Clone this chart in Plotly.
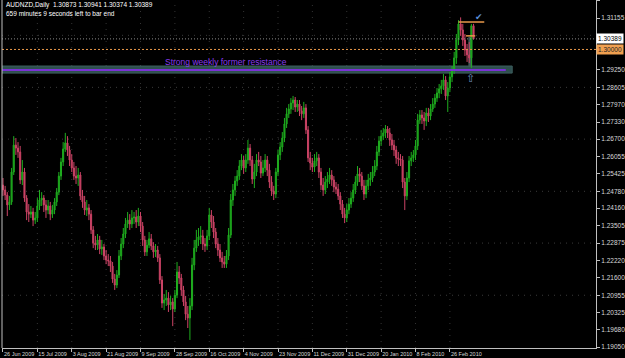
import plotly.graph_objects as go

# ---------------- data ----------------
header_text = "AUDNZD,Daily  1.30873 1.30941 1.30374 1.30389"
timer_text = "659 minutes 9 seconds left to bar end"
zone_text = "Strong weekly former resistance"

date_labels = ["26 Jun 2009", "15 Jul 2009", "3 Aug 2009", "21 Aug 2009", "9 Sep 2009",
               "28 Sep 2009", "16 Oct 2009", "4 Nov 2009", "23 Nov 2009", "11 Dec 2009",
               "31 Dec 2009", "20 Jan 2010", "8 Feb 2010", "26 Feb 2010"]
bars_per_label = 16

price_ticks = [1.31800, 1.31155, 1.29250, 1.28605, 1.27970, 1.27330,
               1.26700, 1.26055, 1.25425, 1.24780, 1.24160, 1.23505, 1.22875, 1.22220,
               1.21600, 1.20955, 1.20325, 1.19680, 1.19050]
grid_prices = [1.30520, 1.28605, 1.26700, 1.24780, 1.22875, 1.20955]

opens = [1.2501, 1.2483, 1.2464, 1.2428, 1.2439, 1.2549, 1.2648, 1.2637, 1.2623, 1.2520,
         1.2549, 1.2453, 1.2402, 1.2394, 1.2402, 1.2372, 1.2380, 1.2424, 1.2446, 1.2453,
         1.2428, 1.2409, 1.2424, 1.2394, 1.2409, 1.2439, 1.2475, 1.2534, 1.2586, 1.2634,
         1.2656, 1.2630, 1.2593, 1.2564, 1.2534, 1.2527, 1.2538, 1.2461, 1.2439, 1.2409,
         1.2417, 1.2394, 1.2336, 1.2288, 1.2280, 1.2299, 1.2266, 1.2273, 1.2240, 1.2225,
         1.2222, 1.2203, 1.2155, 1.2133, 1.2170, 1.2240, 1.2284, 1.2321, 1.2358, 1.2372,
         1.2358, 1.2380, 1.2383, 1.2365, 1.2387, 1.2350, 1.2299, 1.2255, 1.2280, 1.2303,
         1.2277, 1.2255, 1.2262, 1.2233, 1.2152, 1.2067, 1.2078, 1.2085, 1.2060, 1.2071,
         1.2045, 1.2096, 1.2181, 1.2159, 1.2115, 1.2071, 1.2026, 1.2012, 1.2056, 1.2207,
         1.2269, 1.2299, 1.2310, 1.2314, 1.2284, 1.2277, 1.2314, 1.2391, 1.2365, 1.2328,
         1.2284, 1.2262, 1.2233, 1.2218, 1.2210, 1.2240, 1.2317, 1.2446, 1.2483, 1.2516,
         1.2534, 1.2571, 1.2593, 1.2564, 1.2593, 1.2637, 1.2593, 1.2523, 1.2549, 1.2593,
         1.2586, 1.2545, 1.2564, 1.2593, 1.2556, 1.2512, 1.2479, 1.2468, 1.2549, 1.2612,
         1.2641, 1.2674, 1.2726, 1.2763, 1.2781, 1.2803, 1.2814, 1.2788, 1.2799, 1.2774,
         1.2763, 1.2785, 1.2704, 1.2601, 1.2582, 1.2567, 1.2590, 1.2601, 1.2549, 1.2501,
         1.2483, 1.2512, 1.2523, 1.2538, 1.2520, 1.2494, 1.2486, 1.2461, 1.2431, 1.2394,
         1.2380, 1.2409, 1.2431, 1.2453, 1.2483, 1.2512, 1.2542, 1.2534, 1.2498, 1.2468,
         1.2498, 1.2520, 1.2527, 1.2549, 1.2571, 1.2623, 1.2663, 1.2681, 1.2693, 1.2707,
         1.2693, 1.2667, 1.2648, 1.2630, 1.2601, 1.2597, 1.2593, 1.2512, 1.2461, 1.2527,
         1.2590, 1.2601, 1.2612, 1.2645, 1.2740, 1.2759, 1.2748, 1.2737, 1.2766, 1.2755,
         1.2781, 1.2799, 1.2821, 1.2840, 1.2855, 1.2866, 1.2888, 1.2829, 1.2858, 1.2899,
         1.2924, 1.2969, 1.3035, 1.3094, 1.3072, 1.3035, 1.2998, 1.2980, 1.2969, 1.30873]

highs = [1.2527, 1.2498, 1.2475, 1.2461, 1.2564, 1.2681, 1.2674, 1.2659, 1.2645, 1.2593,
         1.2564, 1.2464, 1.2431, 1.2424, 1.2417, 1.2402, 1.2453, 1.2483, 1.2475, 1.2464,
         1.2446, 1.2446, 1.2439, 1.2428, 1.2453, 1.2490, 1.2549, 1.2601, 1.2659, 1.2693,
         1.2681, 1.2645, 1.2615, 1.2586, 1.2571, 1.2564, 1.2549, 1.2483, 1.2461, 1.2446,
         1.2431, 1.2409, 1.2350, 1.2314, 1.2321, 1.2314, 1.2299, 1.2284, 1.2262, 1.2247,
         1.2240, 1.2218, 1.2174, 1.2188, 1.2262, 1.2306, 1.2343, 1.2380, 1.2402, 1.2394,
         1.2409, 1.2402, 1.2409, 1.2417, 1.2402, 1.2365, 1.2314, 1.2299, 1.2328, 1.2321,
         1.2291, 1.2284, 1.2277, 1.2247, 1.2166, 1.2100, 1.2115, 1.2107, 1.2093, 1.2085,
         1.2115, 1.2218, 1.2203, 1.2174, 1.2130, 1.2093, 1.2056, 1.2085, 1.2233, 1.2299,
         1.2336, 1.2343, 1.2350, 1.2336, 1.2306, 1.2336, 1.2417, 1.2409, 1.2387, 1.2343,
         1.2306, 1.2284, 1.2255, 1.2240, 1.2262, 1.2343, 1.2468, 1.2505, 1.2534, 1.2556,
         1.2593, 1.2615, 1.2608, 1.2615, 1.2667, 1.2652, 1.2608, 1.2579, 1.2615, 1.2623,
         1.2608, 1.2593, 1.2615, 1.2608, 1.2579, 1.2534, 1.2498, 1.2564, 1.2630, 1.2659,
         1.2696, 1.2748, 1.2785, 1.2799, 1.2821, 1.2829, 1.2825, 1.2814, 1.2814, 1.2792,
         1.2807, 1.2799, 1.2718, 1.2623, 1.2601, 1.2615, 1.2623, 1.2615, 1.2564, 1.2527,
         1.2534, 1.2549, 1.2564, 1.2556, 1.2534, 1.2512, 1.2505, 1.2475, 1.2446, 1.2417,
         1.2431, 1.2453, 1.2475, 1.2505, 1.2534, 1.2571, 1.2564, 1.2549, 1.2520, 1.2520,
         1.2542, 1.2549, 1.2571, 1.2593, 1.2645, 1.2681, 1.2704, 1.2711, 1.2722, 1.2718,
         1.2711, 1.2689, 1.2667, 1.2645, 1.2623, 1.2615, 1.2608, 1.2527, 1.2549, 1.2608,
         1.2623, 1.2630, 1.2667, 1.2763, 1.2777, 1.2777, 1.2770, 1.2785, 1.2785, 1.2799,
         1.2821, 1.2836, 1.2858, 1.2873, 1.2888, 1.2910, 1.2902, 1.2880, 1.2917, 1.2939,
         1.2991, 1.3057, 1.3108, 1.3118, 1.3094, 1.3057, 1.3020, 1.3027, 1.3094, 1.30941]

lows = [1.2461, 1.2446, 1.2387, 1.2409, 1.2428, 1.2538, 1.2612, 1.2601, 1.2505, 1.2501,
        1.2439, 1.2372, 1.2365, 1.2380, 1.2350, 1.2358, 1.2365, 1.2409, 1.2424, 1.2402,
        1.2380, 1.2394, 1.2372, 1.2380, 1.2394, 1.2424, 1.2464, 1.2520, 1.2571, 1.2623,
        1.2608, 1.2571, 1.2549, 1.2520, 1.2505, 1.2498, 1.2446, 1.2417, 1.2391, 1.2387,
        1.2372, 1.2321, 1.2269, 1.2262, 1.2262, 1.2247, 1.2244, 1.2225, 1.2210, 1.2203,
        1.2181, 1.2141, 1.2115, 1.2122, 1.2159, 1.2225, 1.2269, 1.2306, 1.2343, 1.2336,
        1.2343, 1.2358, 1.2343, 1.2350, 1.2328, 1.2277, 1.2240, 1.2240, 1.2269, 1.2262,
        1.2233, 1.2236, 1.2218, 1.2137, 1.2049, 1.2041, 1.2056, 1.2034, 1.2041, 1.1982,
        1.2034, 1.2085, 1.2137, 1.2093, 1.2056, 1.2004, 1.1975, 1.1931, 1.2041, 1.2188,
        1.2255, 1.2277, 1.2284, 1.2262, 1.2255, 1.2262, 1.2299, 1.2343, 1.2306, 1.2269,
        1.2240, 1.2218, 1.2196, 1.2196, 1.2196, 1.2225, 1.2306, 1.2424, 1.2461, 1.2498,
        1.2520, 1.2556, 1.2542, 1.2549, 1.2579, 1.2571, 1.2505, 1.2490, 1.2534, 1.2571,
        1.2527, 1.2534, 1.2549, 1.2534, 1.2490, 1.2461, 1.2446, 1.2453, 1.2534, 1.2593,
        1.2623, 1.2659, 1.2711, 1.2748, 1.2763, 1.2777, 1.2770, 1.2770, 1.2755, 1.2740,
        1.2748, 1.2689, 1.2586, 1.2556, 1.2549, 1.2549, 1.2571, 1.2527, 1.2483, 1.2461,
        1.2468, 1.2490, 1.2505, 1.2498, 1.2475, 1.2468, 1.2446, 1.2409, 1.2380, 1.2361,
        1.2365, 1.2394, 1.2417, 1.2439, 1.2468, 1.2498, 1.2512, 1.2483, 1.2446, 1.2453,
        1.2483, 1.2498, 1.2512, 1.2534, 1.2556, 1.2608, 1.2645, 1.2667, 1.2674, 1.2674,
        1.2645, 1.2630, 1.2608, 1.2579, 1.2571, 1.2571, 1.2490, 1.2409, 1.2446, 1.2512,
        1.2571, 1.2586, 1.2593, 1.2630, 1.2726, 1.2726, 1.2704, 1.2718, 1.2733, 1.2740,
        1.2770, 1.2785, 1.2807, 1.2821, 1.2836, 1.2851, 1.2814, 1.2770, 1.2843, 1.2880,
        1.2910, 1.2947, 1.3016, 1.3050, 1.3013, 1.2976, 1.2954, 1.2950, 1.2932, 1.30374]

closes = [1.2483, 1.2464, 1.2428, 1.2439, 1.2549, 1.2648, 1.2637, 1.2623, 1.2520, 1.2549,
          1.2453, 1.2402, 1.2394, 1.2402, 1.2372, 1.2380, 1.2424, 1.2446, 1.2453, 1.2428,
          1.2409, 1.2424, 1.2394, 1.2409, 1.2439, 1.2475, 1.2534, 1.2586, 1.2634, 1.2656,
          1.2630, 1.2593, 1.2564, 1.2534, 1.2527, 1.2538, 1.2461, 1.2439, 1.2409, 1.2417,
          1.2394, 1.2336, 1.2288, 1.2280, 1.2299, 1.2266, 1.2273, 1.2240, 1.2225, 1.2222,
          1.2203, 1.2155, 1.2133, 1.2170, 1.2240, 1.2284, 1.2321, 1.2358, 1.2372, 1.2358,
          1.2380, 1.2383, 1.2365, 1.2387, 1.2350, 1.2299, 1.2255, 1.2280, 1.2303, 1.2277,
          1.2255, 1.2262, 1.2233, 1.2152, 1.2067, 1.2078, 1.2085, 1.2060, 1.2071, 1.2045,
          1.2096, 1.2181, 1.2159, 1.2115, 1.2071, 1.2026, 1.2012, 1.2056, 1.2207, 1.2269,
          1.2299, 1.2310, 1.2314, 1.2284, 1.2277, 1.2314, 1.2391, 1.2365, 1.2328, 1.2284,
          1.2262, 1.2233, 1.2218, 1.2210, 1.2240, 1.2317, 1.2446, 1.2483, 1.2516, 1.2534,
          1.2571, 1.2593, 1.2564, 1.2593, 1.2637, 1.2593, 1.2523, 1.2549, 1.2593, 1.2586,
          1.2545, 1.2564, 1.2593, 1.2556, 1.2512, 1.2479, 1.2468, 1.2549, 1.2612, 1.2641,
          1.2674, 1.2726, 1.2763, 1.2781, 1.2803, 1.2814, 1.2788, 1.2799, 1.2774, 1.2763,
          1.2785, 1.2704, 1.2601, 1.2582, 1.2567, 1.2590, 1.2601, 1.2549, 1.2501, 1.2483,
          1.2512, 1.2523, 1.2538, 1.2520, 1.2494, 1.2486, 1.2461, 1.2431, 1.2394, 1.2380,
          1.2409, 1.2431, 1.2453, 1.2483, 1.2512, 1.2542, 1.2534, 1.2498, 1.2468, 1.2498,
          1.2520, 1.2527, 1.2549, 1.2571, 1.2623, 1.2663, 1.2681, 1.2693, 1.2707, 1.2693,
          1.2667, 1.2648, 1.2630, 1.2601, 1.2597, 1.2593, 1.2512, 1.2461, 1.2527, 1.2590,
          1.2601, 1.2612, 1.2645, 1.2740, 1.2759, 1.2748, 1.2737, 1.2766, 1.2755, 1.2781,
          1.2799, 1.2821, 1.2840, 1.2855, 1.2866, 1.2888, 1.2829, 1.2858, 1.2899, 1.2924,
          1.2969, 1.3035, 1.3094, 1.3072, 1.3035, 1.2998, 1.2980, 1.2969, 1.3087, 1.30389]

# annotation levels (prices) drawn on the chart
zone_top, zone_bottom, zone_line = 1.2939, 1.2913, 1.2924
round_level = 1.30000
bid_price = 1.30389
top_line_price = 1.3101
mid_line_price = 1.3050
bar_box_top, bar_box_bottom = 1.3046, 1.2935
check_price = 1.3119
arrow_price = 1.2893

# ---------------- figure ----------------
n = len(closes)
idx = list(range(n))

BG = "#000000"
AX = "#c0c0c0"
TXT = "#d8d8d8"
FONT = "Liberation Sans"
GREEN = "#1fae1f"
RED = "#cc4466"
ORANGE = "#E8984A"

fig = go.Figure()
fig.add_trace(go.Candlestick(
    x=idx, open=opens, high=highs, low=lows, close=closes,
    increasing=dict(line=dict(color=GREEN, width=1), fillcolor="#178f17"),
    decreasing=dict(line=dict(color=RED, width=1), fillcolor="#c03a5c"),
    whiskerwidth=0, showlegend=False, hoverinfo="skip"))

x_left, x_right = -0.46, 276.0
zone_end = 237
shapes = []
# dotted grid
for gp in grid_prices:
    shapes.append(dict(type="line", xref="paper", x0=0, x1=1, yref="y", y0=gp, y1=gp,
                       line=dict(color="#3a3a3a", width=1, dash="1px,5px"), layer="below"))
for k in range(1, len(date_labels)):
    xv = k * bars_per_label
    shapes.append(dict(type="line", xref="x", x0=xv, x1=xv, yref="paper", y0=0, y1=1,
                       line=dict(color="#333333", width=1, dash="1px,5px"), layer="below"))
# resistance zone
shapes.append(dict(type="rect", xref="x", x0=x_left, x1=zone_end, yref="y",
                   y0=zone_bottom, y1=zone_top, fillcolor="#2F4F4F",
                   line=dict(color="#3d5d5d", width=1), layer="below"))
shapes.append(dict(type="line", xref="x", x0=x_left, x1=zone_end - 3, yref="y",
                   y0=zone_line, y1=zone_line, line=dict(color="#7a32d6", width=2)))
# small gray box near last bars
shapes.append(dict(type="rect", xref="x", x0=216.6, x1=218.4, yref="y",
                   y0=bar_box_bottom, y1=bar_box_top, fillcolor="#3e5858",
                   line=dict(width=0), layer="below"))
# 1.30000 dashed line and bid line
shapes.append(dict(type="line", xref="paper", x0=0, x1=1, yref="y", y0=round_level,
                   y1=round_level, line=dict(color=ORANGE, width=1, dash="2px,2px")))
shapes.append(dict(type="line", xref="paper", x0=0, x1=1, yref="y", y0=bid_price,
                   y1=bid_price, line=dict(color="#8a8a8a", width=1, dash="1px,2px")))
# orange horizontal segments
shapes.append(dict(type="line", xref="x", x0=212, x1=224, yref="y", y0=top_line_price,
                   y1=top_line_price, line=dict(color=ORANGE, width=1.5)))
shapes.append(dict(type="line", xref="x", x0=215.5, x1=219.8, yref="y", y0=mid_line_price,
                   y1=mid_line_price, line=dict(color=ORANGE, width=1.5)))
# left border
shapes.append(dict(type="line", xref="paper", x0=0, x1=0, yref="paper", y0=0, y1=1,
                   line=dict(color=AX, width=1)))

annotations = [
    dict(xref="paper", yref="paper", x=0.003, y=1.003, xanchor="left", yanchor="top",
         text=header_text, showarrow=False, font=dict(family=FONT, size=6.5, color="#ffffff")),
    dict(xref="paper", yref="paper", x=0.003, y=0.977, xanchor="left", yanchor="top",
         text=timer_text, showarrow=False, font=dict(family=FONT, size=6.5, color="#ffffff")),
    dict(xref="x", yref="y", x=103.7, y=1.2954, text=zone_text, showarrow=False,
         font=dict(family=FONT, size=8.5, color="#8a3cf0")),
    dict(xref="paper", yref="y", x=1.0, y=bid_price, xanchor="left", text="1.30389",
         showarrow=False, bgcolor="#ffffff", borderpad=1,
         font=dict(family=FONT, size=6.5, color="#000000")),
    dict(xref="paper", yref="y", x=1.0, y=round_level, xanchor="left", text="1.30000",
         showarrow=False, bgcolor="#F0A050", borderpad=1,
         font=dict(family=FONT, size=6.5, color="#202020")),
    dict(xref="x", yref="y", x=221.5, y=check_price, text="✔", showarrow=False,
         font=dict(family="DejaVu Sans", size=9, color="#5b8fd6")),
    dict(xref="x", yref="y", x=217.6, y=arrow_price, text="⇧", showarrow=False,
         font=dict(family="DejaVu Sans", size=11, color="#6f8fc0")),
]

fig.update_layout(
    width=625, height=358,
    margin=dict(l=2, r=23, t=0, b=10, pad=0),
    paper_bgcolor=BG, plot_bgcolor=BG,
    shapes=shapes, annotations=annotations, showlegend=False,
    xaxis=dict(range=[x_left, x_right], rangeslider=dict(visible=False),
               tickvals=[k * bars_per_label for k in range(len(date_labels))],
               ticktext=date_labels, ticks="outside", ticklen=3, tickcolor=AX,
               ticklabelposition="outside right", tickangle=0,
               tickfont=dict(family=FONT, size=5.5, color=TXT),
               showline=True, linecolor=AX, linewidth=1, showgrid=False, zeroline=False,
               fixedrange=True),
    yaxis=dict(range=[1.19014, 1.3182], side="right",
               tickvals=price_ticks, ticktext=[f"{v:.5f}" for v in price_ticks],
               ticks="outside", ticklen=3, tickcolor=AX,
               tickfont=dict(family=FONT, size=6.5, color=TXT),
               showline=True, linecolor=AX, linewidth=1, showgrid=False, zeroline=False,
               fixedrange=True),
)

fig.write_html("out.html", config={"displayModeBar": False})
